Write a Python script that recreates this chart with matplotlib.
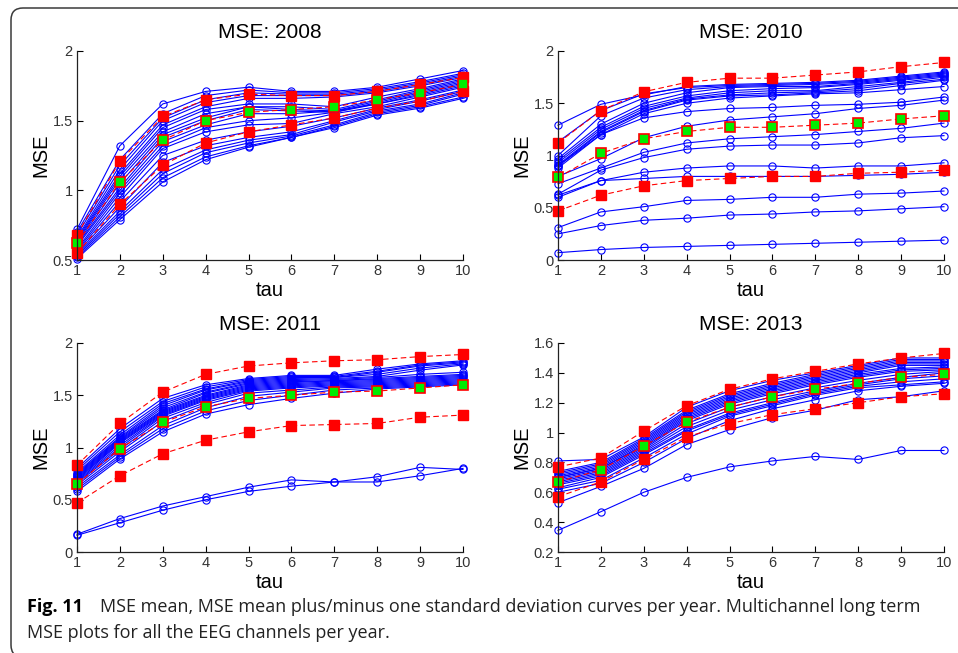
import numpy as np
import matplotlib
matplotlib.use('Agg')
import matplotlib.pyplot as plt
from matplotlib.patches import FancyBboxPatch
from matplotlib.transforms import IdentityTransform
from matplotlib.ticker import FuncFormatter

tau = np.arange(1, 11)

# 2008 --------------------------------------------------------------
blue_2008 = [
    [0.72, 1.32, 1.62, 1.71, 1.74, 1.71, 1.71, 1.74, 1.80, 1.86],
    [0.70, 1.22, 1.55, 1.68, 1.72, 1.70, 1.70, 1.73, 1.78, 1.84],
    [0.68, 1.18, 1.52, 1.65, 1.70, 1.69, 1.69, 1.72, 1.77, 1.83],
    [0.66, 1.15, 1.50, 1.63, 1.68, 1.68, 1.68, 1.71, 1.76, 1.82],
    [0.65, 1.12, 1.47, 1.60, 1.66, 1.66, 1.67, 1.70, 1.75, 1.81],
    [0.64, 1.10, 1.45, 1.58, 1.62, 1.62, 1.60, 1.67, 1.73, 1.80],
    [0.63, 1.08, 1.42, 1.55, 1.60, 1.60, 1.58, 1.65, 1.72, 1.79],
    [0.62, 1.05, 1.40, 1.52, 1.60, 1.58, 1.57, 1.64, 1.71, 1.78],
    [0.61, 1.02, 1.38, 1.50, 1.58, 1.57, 1.56, 1.63, 1.70, 1.77],
    [0.60, 1.00, 1.35, 1.47, 1.55, 1.55, 1.57, 1.62, 1.69, 1.76],
    [0.58, 0.98, 1.32, 1.45, 1.50, 1.52, 1.56, 1.62, 1.68, 1.75],
    [0.57, 0.95, 1.30, 1.42, 1.47, 1.48, 1.55, 1.60, 1.67, 1.74],
    [0.56, 0.92, 1.25, 1.36, 1.42, 1.46, 1.52, 1.59, 1.65, 1.72],
    [0.55, 0.88, 1.20, 1.32, 1.38, 1.42, 1.50, 1.58, 1.64, 1.71],
    [0.54, 0.85, 1.15, 1.29, 1.36, 1.40, 1.49, 1.57, 1.62, 1.70],
    [0.53, 0.83, 1.12, 1.27, 1.34, 1.39, 1.47, 1.56, 1.61, 1.69],
    [0.52, 0.81, 1.09, 1.24, 1.32, 1.38, 1.46, 1.55, 1.60, 1.67],
    [0.51, 0.79, 1.06, 1.22, 1.31, 1.38, 1.45, 1.54, 1.59, 1.66],
]
mean_2008 = [0.62, 1.06, 1.36, 1.50, 1.56, 1.58, 1.60, 1.65, 1.70, 1.76]
upper_2008 = [0.68, 1.21, 1.53, 1.65, 1.69, 1.68, 1.68, 1.71, 1.76, 1.81]
lower_2008 = [0.55, 0.90, 1.18, 1.34, 1.42, 1.47, 1.52, 1.59, 1.64, 1.71]

# 2010 --------------------------------------------------------------
blue_2010 = [
    [1.29, 1.49, 1.58, 1.66, 1.68, 1.69, 1.70, 1.72, 1.76, 1.80],
    [1.13, 1.43, 1.59, 1.65, 1.67, 1.68, 1.69, 1.71, 1.75, 1.79],
    [1.00, 1.38, 1.55, 1.63, 1.66, 1.67, 1.68, 1.70, 1.74, 1.78],
    [0.97, 1.30, 1.50, 1.60, 1.65, 1.66, 1.66, 1.69, 1.73, 1.77],
    [0.95, 1.27, 1.47, 1.57, 1.62, 1.64, 1.65, 1.68, 1.72, 1.76],
    [0.93, 1.25, 1.45, 1.55, 1.60, 1.62, 1.62, 1.66, 1.70, 1.75],
    [0.91, 1.23, 1.43, 1.54, 1.58, 1.60, 1.61, 1.64, 1.69, 1.73],
    [0.90, 1.22, 1.42, 1.53, 1.57, 1.58, 1.60, 1.62, 1.67, 1.72],
    [0.88, 1.20, 1.40, 1.50, 1.55, 1.57, 1.59, 1.60, 1.63, 1.66],
    [0.90, 1.20, 1.36, 1.42, 1.45, 1.46, 1.48, 1.49, 1.51, 1.56],
    [0.80, 0.97, 1.17, 1.28, 1.34, 1.37, 1.40, 1.45, 1.48, 1.53],
    [0.73, 0.88, 1.03, 1.12, 1.16, 1.18, 1.20, 1.23, 1.26, 1.31],
    [0.63, 0.86, 0.98, 1.06, 1.09, 1.10, 1.10, 1.12, 1.17, 1.19],
    [0.62, 0.76, 0.84, 0.88, 0.90, 0.90, 0.88, 0.90, 0.90, 0.93],
    [0.60, 0.76, 0.78, 0.80, 0.80, 0.80, 0.80, 0.81, 0.82, 0.84],
    [0.31, 0.46, 0.51, 0.57, 0.58, 0.60, 0.60, 0.63, 0.64, 0.66],
    [0.25, 0.33, 0.38, 0.40, 0.43, 0.44, 0.46, 0.47, 0.49, 0.51],
    [0.07, 0.10, 0.12, 0.13, 0.14, 0.15, 0.16, 0.17, 0.18, 0.19],
]
mean_2010 = [0.79, 1.02, 1.16, 1.23, 1.27, 1.27, 1.29, 1.31, 1.35, 1.38]
upper_2010 = [1.12, 1.43, 1.61, 1.70, 1.74, 1.74, 1.77, 1.80, 1.85, 1.89]
lower_2010 = [0.47, 0.62, 0.71, 0.76, 0.78, 0.80, 0.80, 0.83, 0.84, 0.86]

# 2011 --------------------------------------------------------------
blue_2011 = [
    [0.80, 1.18, 1.47, 1.60, 1.66, 1.69, 1.69, 1.75, 1.80, 1.83],
    [0.78, 1.15, 1.44, 1.58, 1.65, 1.68, 1.68, 1.73, 1.79, 1.82],
    [0.76, 1.12, 1.42, 1.56, 1.64, 1.67, 1.67, 1.72, 1.78, 1.81],
    [0.75, 1.10, 1.40, 1.55, 1.63, 1.66, 1.67, 1.70, 1.76, 1.80],
    [0.74, 1.09, 1.38, 1.53, 1.62, 1.65, 1.66, 1.68, 1.74, 1.79],
    [0.73, 1.08, 1.36, 1.52, 1.61, 1.64, 1.65, 1.67, 1.70, 1.72],
    [0.72, 1.07, 1.35, 1.50, 1.60, 1.63, 1.64, 1.66, 1.68, 1.70],
    [0.71, 1.06, 1.34, 1.49, 1.59, 1.62, 1.64, 1.65, 1.67, 1.69],
    [0.70, 1.05, 1.33, 1.48, 1.58, 1.61, 1.63, 1.64, 1.66, 1.68],
    [0.69, 1.04, 1.32, 1.47, 1.57, 1.60, 1.62, 1.63, 1.65, 1.67],
    [0.68, 1.02, 1.31, 1.46, 1.56, 1.59, 1.61, 1.62, 1.64, 1.66],
    [0.67, 1.00, 1.30, 1.45, 1.55, 1.58, 1.60, 1.61, 1.63, 1.65],
    [0.66, 0.98, 1.28, 1.43, 1.54, 1.57, 1.59, 1.60, 1.62, 1.64],
    [0.64, 0.96, 1.25, 1.41, 1.52, 1.55, 1.58, 1.59, 1.61, 1.63],
    [0.62, 0.93, 1.21, 1.38, 1.49, 1.53, 1.57, 1.58, 1.60, 1.62],
    [0.60, 0.91, 1.18, 1.35, 1.45, 1.50, 1.55, 1.57, 1.59, 1.61],
    [0.58, 0.89, 1.15, 1.32, 1.41, 1.47, 1.52, 1.56, 1.58, 1.60],
    [0.17, 0.32, 0.44, 0.53, 0.62, 0.69, 0.67, 0.72, 0.81, 0.79],
    [0.16, 0.28, 0.40, 0.50, 0.58, 0.63, 0.67, 0.67, 0.73, 0.80],
]
mean_2011 = [0.65, 0.99, 1.24, 1.39, 1.47, 1.50, 1.53, 1.54, 1.57, 1.60]
upper_2011 = [0.83, 1.23, 1.53, 1.70, 1.78, 1.81, 1.83, 1.84, 1.87, 1.89]
lower_2011 = [0.47, 0.73, 0.94, 1.07, 1.15, 1.21, 1.22, 1.23, 1.29, 1.31]

# 2013 --------------------------------------------------------------
blue_2013 = [
    [0.81, 0.82, 0.97, 1.17, 1.28, 1.35, 1.40, 1.45, 1.50, 1.50],
    [0.74, 0.80, 0.96, 1.15, 1.26, 1.33, 1.39, 1.44, 1.49, 1.49],
    [0.73, 0.79, 0.95, 1.14, 1.25, 1.32, 1.38, 1.43, 1.48, 1.48],
    [0.72, 0.78, 0.94, 1.13, 1.24, 1.31, 1.37, 1.42, 1.47, 1.47],
    [0.71, 0.77, 0.93, 1.12, 1.23, 1.30, 1.36, 1.41, 1.46, 1.46],
    [0.70, 0.76, 0.92, 1.11, 1.22, 1.29, 1.35, 1.40, 1.45, 1.45],
    [0.70, 0.76, 0.91, 1.10, 1.21, 1.28, 1.34, 1.39, 1.43, 1.44],
    [0.69, 0.75, 0.90, 1.09, 1.20, 1.27, 1.33, 1.38, 1.42, 1.43],
    [0.68, 0.74, 0.89, 1.08, 1.19, 1.26, 1.32, 1.37, 1.41, 1.42],
    [0.67, 0.73, 0.88, 1.06, 1.17, 1.24, 1.30, 1.35, 1.39, 1.41],
    [0.66, 0.72, 0.87, 1.04, 1.15, 1.22, 1.28, 1.33, 1.37, 1.40],
    [0.65, 0.71, 0.86, 1.02, 1.13, 1.20, 1.27, 1.32, 1.36, 1.38],
    [0.63, 0.70, 0.85, 1.01, 1.12, 1.19, 1.26, 1.31, 1.34, 1.36],
    [0.62, 0.68, 0.83, 0.99, 1.11, 1.18, 1.25, 1.30, 1.32, 1.34],
    [0.60, 0.66, 0.80, 0.96, 1.08, 1.16, 1.22, 1.28, 1.31, 1.33],
    [0.53, 0.64, 0.76, 0.92, 1.02, 1.10, 1.15, 1.22, 1.24, 1.28],
    [0.345, 0.47, 0.60, 0.70, 0.77, 0.81, 0.84, 0.82, 0.88, 0.88],
]
mean_2013 = [0.67, 0.75, 0.91, 1.07, 1.17, 1.24, 1.29, 1.33, 1.37, 1.39]
upper_2013 = [0.77, 0.83, 1.01, 1.18, 1.29, 1.36, 1.41, 1.46, 1.50, 1.53]
lower_2013 = [0.57, 0.67, 0.82, 0.97, 1.06, 1.12, 1.16, 1.20, 1.24, 1.26]

years = ['2008', '2010', '2011', '2013']
blues = [blue_2008, blue_2010, blue_2011, blue_2013]
means = [mean_2008, mean_2010, mean_2011, mean_2013]
uppers = [upper_2008, upper_2010, upper_2011, upper_2013]
lowers = [lower_2008, lower_2010, lower_2011, lower_2013]
ylims = [(0.5, 2), (0, 2), (0, 2), (0.2, 1.6)]
yticks = [[0.5, 1, 1.5, 2], [0, 0.5, 1, 1.5, 2], [0, 0.5, 1, 1.5, 2],
          [0.2, 0.4, 0.6, 0.8, 1.0, 1.2, 1.4, 1.6]]

plt.rcParams['font.family'] = ['Liberation Sans', 'DejaVu Sans']

W, H = 958, 653
fig = plt.figure(figsize=(W / 100, H / 100), dpi=100)

# rounded frame around the figure
frame = FancyBboxPatch((11, -4), 980, 649, boxstyle='round,pad=0,rounding_size=12',
                       transform=IdentityTransform(), facecolor='none',
                       edgecolor='#3a3a3a', linewidth=1.1)
fig.patches.append(frame)

# axes positions (pixels): left, top
positions = [(77, 51), (558, 51), (77, 343), (558, 343)]
aw, ah = 386, 209

for i in range(4):
    left, top = positions[i]
    ax = fig.add_axes([left / W, 1 - (top + ah) / H, aw / W, ah / H])

    for b in blues[i]:
        ax.plot(tau, b, color='b', linewidth=0.8, marker='o', markersize=5.2,
                markerfacecolor='none', markeredgewidth=0.8, clip_on=False)
    ax.plot(tau, uppers[i], color='r', linestyle='--', dashes=(5, 3), linewidth=0.8,
            marker='s', markersize=7, markerfacecolor='r', markeredgecolor='r', clip_on=False)
    ax.plot(tau, lowers[i], color='r', linestyle='--', dashes=(5, 3), linewidth=0.8,
            marker='s', markersize=7, markerfacecolor='r', markeredgecolor='r', clip_on=False)
    ax.plot(tau, means[i], color='r', linestyle='--', dashes=(5, 3), linewidth=0.8,
            marker='s', markersize=7, markerfacecolor='#00ee00', markeredgecolor='r',
            markeredgewidth=1.2, clip_on=False)

    ax.set_xlim(1, 10)
    ax.set_ylim(*ylims[i])
    ax.set_xticks(tau)
    ax.set_yticks(yticks[i])
    ax.yaxis.set_major_formatter(FuncFormatter(lambda v, p: '%g' % round(v, 2)))
    ax.tick_params(direction='in', length=4, width=0.8, labelsize=10.5,
                   labelcolor='#333333', pad=3, top=False, right=False)
    for s in ['top', 'right']:
        ax.spines[s].set_visible(False)
    for s in ['left', 'bottom']:
        ax.spines[s].set_linewidth(0.9)
        ax.spines[s].set_color('#222222')

    ax.text(0.5, 1.09, 'MSE: ' + years[i], transform=ax.transAxes,
            ha='center', va='center', fontsize=15)
    ax.set_xlabel('tau', fontsize=14.5)
    ax.set_ylabel('MSE', fontsize=14.5)
    ax.xaxis.set_label_coords(0.5, -0.10)
    ax.yaxis.set_label_coords(-0.07, 0.5)

# caption
fig.text(27 / W, 1 - 607 / H, 'Fig. 11', fontsize=13, fontweight='bold',
         family='Open Sans', va='center', ha='left')
fig.text(100 / W, 1 - 607 / H,
         'MSE mean, MSE mean plus/minus one standard deviation curves per year. Multichannel long term',
         fontsize=13, family='Open Sans', va='center', ha='left', color='#222222')
fig.text(27 / W, 1 - 633 / H, 'MSE plots for all the EEG channels per year.',
         fontsize=13, family='Open Sans', va='center', ha='left', color='#222222')

fig.savefig('out.png', dpi=100)
